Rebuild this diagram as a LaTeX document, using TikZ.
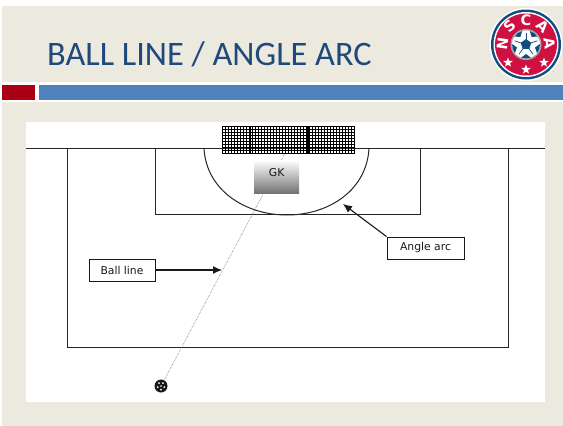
\documentclass[tikz,border=0pt]{standalone}
\usepackage{fontspec}
\setmainfont{Carlito}
\newfontfamily\boxfont{DejaVu Sans}
\usetikzlibrary{arrows.meta,shapes.geometric}
\definecolor{bgbeige}{HTML}{ECE9DF}
\definecolor{barred}{HTML}{AA0014}
\definecolor{barblue}{HTML}{4F81BD}
\definecolor{titleblue}{HTML}{1F497D}
\definecolor{logored}{HTML}{CE1141}
\definecolor{logonavy}{HTML}{0F4C81}
\tikzset{
  px/.style={x=1pt,y=-1pt},
  field/.style={draw=black!85,line width=0.9pt},
  labelbox/.style={draw=black!90,line width=0.9pt,fill=white,font=\boxfont\fontsize{10.8}{12}\selectfont,text=black!90,inner sep=0pt},
  pointer/.style={draw=black!90,line width=1.1pt,-{Latex[length=9pt,width=8pt]}},
  ballline/.style={draw=black!55,line width=0.6pt,densely dotted},
  logostar/.style={star,star points=5,star point ratio=2.4,fill=white,inner sep=0pt,minimum size=10pt},
  logoletter/.style={text=white,inner sep=0pt,font=\boxfont\bfseries\fontsize{14.5}{15}\selectfont},
}
\begin{document}
\begin{tikzpicture}[px]
\useasboundingbox (0,0) rectangle (563,426);
\fill[white] (0,0) rectangle (563,426);
\fill[bgbeige] (2,6) rectangle (563,82);
\fill[bgbeige] (2,102) rectangle (563,426);
\fill[barred] (2,85) rectangle (35,100);
\fill[barblue] (39,85) rectangle (563,100);
\fill[white] (26,122) rectangle (545,402);
\node[anchor=west,inner sep=0pt,text=titleblue,font=\fontsize{34.3}{38}\selectfont] (title) at (47,54) {BALL LINE / ANGLE ARC};
% field
\coordinate (goalL) at (26,148);
\coordinate (goalR) at (545,148);
\draw[field] (goalL) -- (goalR);
\draw[field] (67,148) -- (67,347) -- (508,347) -- (508,148);
\draw[field] (155,148) -- (155,214) -- (420,214) -- (420,148);
\draw[field,line width=1pt] (204,148) .. controls (206,190) and (245,215) .. (287,215) .. controls (329,215) and (367,190) .. (369,148);
% ball line
\coordinate (ballc) at (161,386);
\coordinate (netb) at (285,153);
\draw[ballline] (ballc) -- (netb);
% GK
\node[minimum width=45pt,minimum height=33pt,inner sep=0pt,top color=white,bottom color=black!55,text=black!90,anchor=north west,font=\boxfont\fontsize{10.8}{12}\selectfont] (gk) at (254,160) {\raisebox{9pt}{GK}};
% net
\foreach \x in {222,225,...,354.1} \draw[black,line width=0.55pt] (\x,126) -- (\x,153);
\foreach \y in {126,129,...,153.1} \draw[black,line width=0.55pt] (222,\y) -- (354,\y);
\draw[black,line width=1pt] (222,126) rectangle (354,153);
\draw[black,line width=1.1pt] (250,126) -- (250,153);
\draw[black,line width=1.1pt] (308,126) -- (308,153);
% ball
\fill[black!90] (ballc) circle (6.5);
\foreach \a in {90,162,234,306,18} \fill[white] (ballc) ++(\a:3.5) circle (1);
\fill[white] (ballc) circle (0.8);
% labels
\node[labelbox,minimum width=66pt,minimum height=22pt] (ball) at (122,270) {Ball line};
\coordinate (ballend) at (222,270);
\draw[pointer] (ball.east) -- (ballend);
\node[labelbox,minimum width=77pt,minimum height=22pt] (angle) at (425.5,248) {Angle arc};
\coordinate (arcend) at (343,204);
\draw[pointer] (angle.north west) -- (arcend);
% logo
\begin{scope}[shift={(526,44.5)}]
\fill[white] (0,0) circle (36.5);
\fill[logonavy] (0,0) circle (35);
\fill[white] (0,0) circle (32.5);
\fill[logored] (0,0) circle (31);
\fill[black!35] (0,0) circle (15.5);
\fill[white] (0,0) circle (14);
\foreach \a in {270,342,54,126,198} {
  \draw[logonavy,line width=0.7pt] (\a:4) -- (\a:12);
  \fill[logonavy] (\a+36:9.5) -- (\a+16:14) arc[start angle=\a+16,end angle=\a+56,radius=14] -- cycle;
}
\fill[logonavy] (270:5.5) -- (342:5.5) -- (54:5.5) -- (126:5.5) -- (198:5.5) -- cycle;
\node[logoletter,rotate=82] (l1) at (-23.5,-1) {N};
\node[logoletter,rotate=42] (l2) at (-16.5,-18) {S};
\node[logoletter] (l3) at (0,-24) {C};
\node[logoletter,rotate=-42] (l4) at (16.5,-18) {A};
\node[logoletter,rotate=-82] (l5) at (23.5,-1) {A};
\node[logostar] (s1) at (-18,18) {};
\node[logostar] (s2) at (0,25) {};
\node[logostar] (s3) at (18,18) {};
\node[text=black!50,inner sep=0pt,font=\fontsize{4}{4}\selectfont] (reg) at (28,29) {®};
\end{scope}
\end{tikzpicture}
\end{document}
